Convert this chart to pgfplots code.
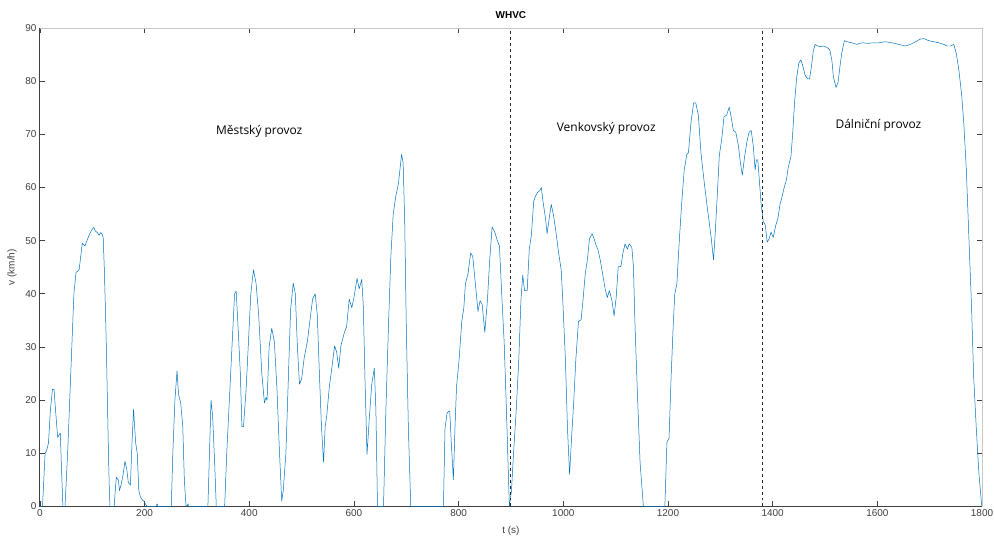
\documentclass[border=0pt]{standalone}
\usepackage{fontspec}
\setmainfont{Liberation Sans}
\newfontfamily\annfont{Open Sans}
\usepackage{pgfplots}
\pgfplotsset{compat=1.18}
\definecolor{mblue}{RGB}{0,114,189}
\definecolor{axgray}{RGB}{64,64,64}
\definecolor{boxgray}{RGB}{200,200,200}
\begin{document}
\begin{tikzpicture}
\clip (-40pt,-31pt) rectangle (957pt,508pt);
\begin{axis}[
  at={(0,0)}, anchor=south west,
  scale only axis, width=945pt, height=480pt,
  xmin=0, xmax=1800, ymin=0, ymax=90,
  xtick={0,200,...,1800}, ytick={0,10,...,90},
  tick align=inside, major tick length=5pt,
  tick style={axgray, line width=0.6pt},
  axis line style={draw=none},
  /pgf/number format/assume math mode=true,
  /pgf/number format/1000 sep={},
  ticklabel style={font=\fontsize{10}{12}\selectfont, text=axgray},
  xlabel={t (s)}, ylabel={v (km/h)},
  label style={font=\fontsize{10}{12}\selectfont, text=axgray},
  xlabel style={yshift=-2pt},
  ylabel style={at={(axis description cs:-0.021,0.5)}, anchor=south},
  title={\textbf{WHVC}},
  title style={font=\fontsize{10}{12}\selectfont, at={(0.5,1)}, anchor=south, yshift=0pt},
  clip=false,
]
\draw[boxgray, line width=0.8pt] (rel axis cs:0,1) -- (rel axis cs:1,1) -- (rel axis cs:1,0);
\draw[axgray, line width=0.8pt] (rel axis cs:0,1) -- (rel axis cs:0,0) -- (rel axis cs:1,0);
\addplot[mblue, line width=0.5pt, line join=round] coordinates {
(0,0)(5,0)(8,6)(10,10)(13,10.5)(16.5,12)(20,18)(24,22)(27,22)(30,18)(34,13)(37,13.5)(39,13.8)(41,8)(44,0)(48,0)(50,4)(53,10)(57,20)(61,30)(65,40)(69,44)(75,44.5)(78,47)(81,49.5)(86,49)(90,50)(94,51)(99,52)(103,52.5)(106,51.8)(110,51.5)(113,51)(116,51.5)(119,51.2)(121,50.5)(123,45)(125,38)(127,30)(129,20)(131,10)(133,2)(134,0)(142,0)(144,3)(146,5.5)(148,5.2)(150,5)(152,3)(155,4)(159,6)(162.5,8.5)(166,7)(169,4.5)(173,4)(176,12)(179,18.3)(181,15)(183,12)(186,10)(189,3)(192,1.8)(196,1.2)(199,1)(202,0.4)(205,0)(222,0)(224,0.5)(226,0)(251,0)(254,10)(258,20)(262,25.5)(265,21)(269,19.5)(273,15)(276,5)(279,0.3)(281,0)(283,0.5)(285,0)(321,0)(324,10)(327,20)(330,17)(334,8)(337,0)(353,0)(357,10)(362,20)(367,30)(372,40)(375,40.5)(378,35)(383,25)(386,15)(389,15)(394,22)(399,32)(403,40)(408,44.5)(413,42)(418,36)(424,25)(429,19.5)(432,20.5)(434,20)(438,30)(443,33.5)(448,31)(453,22)(457,12)(462,1)(465,3)(470,10)(475,25)(479,37)(484,42)(488,40)(492,30)(496,23)(500,24)(505,28)(511,31)(516,35)(521,39)(526,40)(530,36)(534,25)(538,15)(542,8.3)(545,15)(548,17)(553,22.5)(559,27)(563,30.2)(567,29)(571,26)(575,30.2)(582,32.8)(586,33.8)(591,39)(596,37.4)(600,39.3)(606,42.9)(610,40.9)(615,42.7)(618,37.4)(621,24.4)(625,9.8)(629,16)(634,23)(639,26)(642,18)(645,0)(656.5,0)(661,18)(666,34)(670.5,47)(675,54.9)(680,58.4)(685,60.7)(691,66.2)(694,64.6)(697,53.6)(700,34)(704,14.7)(708.6,0)(771,0)(774,14.7)(778,17.6)(783,18)(786,12)(790,5)(793,14.7)(796,22.5)(801,27.7)(806,34.8)(810,37.4)(813,41.9)(818,43.8)(823,47.7)(827,47)(832,41.9)(837,36.7)(841,38.7)(845,38)(850,32.8)(855,38.7)(859,45.8)(864,52.6)(869,51.6)(874,50)(878,49)(882,40.6)(887,30.9)(891,19.2)(895,6.3)(897,0)
(901,3)(905,10.2)(910,18)(915,27.7)(919,38.7)(922.5,43.5)(926,40.6)(931,40.6)(935,48.4)(939,51)(943.5,57.4)(947,58.4)(951,59.1)(955,59.4)(958,60)(962,56.8)(966,54.2)(969,51.3)(973,54.2)(977,56.8)(981,54.9)(986,51.6)(991,47.7)(996,44.5)(999,38.7)(1004,27.7)(1008,14.7)(1012,6)(1015,11.5)(1020,19.9)(1024,27.7)(1029,34.8)(1034,35.1)(1037.5,38.7)(1042,43.8)(1046,46.4)(1050,50.3)(1055,51.3)(1059,50.3)(1063,49)(1066,48.4)(1070.5,46.4)(1075,43.8)(1080,40.9)(1084,39.3)(1088,40.6)(1093,38.7)(1097,35.8)(1101,39.3)(1105,45.1)(1110,45.1)(1114,47.7)(1118,49.4)(1122.5,48.4)(1126,49.4)(1131,48.7)(1134,45.1)(1137,34.1)(1141.6,21.2)(1146.7,8.2)(1153,0)(1194,0)(1198,12.1)(1202,12.8)(1206,24.4)(1210,34.1)(1213,40)(1217,41.9)(1221,49)(1226,56.8)(1231,63.3)(1236,66.2)(1239,66.5)(1244,72.3)(1249,75.9)(1253,75.9)(1258,73.6)(1263,66.5)(1269.5,60.7)(1276,55.5)(1282,51)(1287,46.4)(1290,51)(1294,58.1)(1298,65.9)(1303,69.4)(1307,73.3)(1312,73.6)(1317,75.1)(1320.6,73.3)(1325,70.7)(1329.5,70.4)(1334.6,67.8)(1338.4,64.6)(1342,62.3)(1346,65.5)(1350.6,68.5)(1355,70.4)(1359,70.7)(1363,67.8)(1366.5,63.3)(1369,65.2)(1371.6,65.2)(1374,62)(1378,56.8)
(1382,53.6)(1386,52.9)(1389.5,49.7)(1393,50.3)(1397,51.6)(1401,50.6)(1406,52.9)(1410,54.2)(1414,56.8)(1417.5,58.1)(1422,60)(1426,61.3)(1430,63.9)(1435,65.9)(1438,69.8)(1442,76.2)(1446,80.8)(1450,83.4)(1454,84)(1458,82.7)(1462,81.1)(1467,80.4)(1470.5,80.4)(1474,82.7)(1477.5,85.6)(1481,86.9)(1486,86.6)(1491,86.5)(1497,86.6)(1504,86.3)(1509,85.9)(1513,84)(1516,80.8)(1521,78.8)(1525,79.8)(1528.5,82.7)(1532,85.3)(1537,87.6)(1542,87.4)(1551.5,87.2)(1561,86.9)(1570.6,87.2)(1583,87.1)(1590,87.2)(1602.5,87.2)(1615,87.4)(1628,87.2)(1641,86.9)(1653.6,86.6)(1663,86.9)(1673,87.4)(1682,87.9)(1689,88)(1698,87.6)(1708,87.4)(1717,87.2)(1727,86.9)(1733,86.6)(1740,86.6)(1746,86.9)(1750.6,85.3)(1755.7,82.1)(1761,77.5)(1765,72.3)(1770,63.3)(1775,50.3)(1780,37.4)(1784,24.4)(1789,14.7)(1794,6.3)(1799,0.5)(1800,0)
};
\addplot[black!85, dashed, line width=1pt] coordinates {(900,0) (900,90)};
\addplot[black!85, dashed, line width=1pt] coordinates {(1380,0) (1380,90)};
\node[font=\annfont\fontsize{12}{14}\selectfont] at (axis cs:419,70.5) {Městský provoz};
\node[font=\annfont\fontsize{12}{14}\selectfont] at (axis cs:1082,71.2) {Venkovský provoz};
\node[font=\annfont\fontsize{12}{14}\selectfont] at (axis cs:1602,71.6) {Dálniční provoz};
\end{axis}
\end{tikzpicture}
\end{document}
